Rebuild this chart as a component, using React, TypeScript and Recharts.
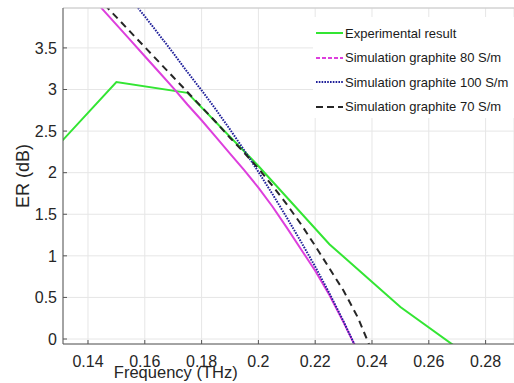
import { CartesianGrid, Label, Legend, Line, LineChart, XAxis, YAxis } from "recharts";

// frequency grid shared by the three simulated curves (THz)
const SIM_FREQ = [
  0.14, 0.145, 0.15, 0.155, 0.16, 0.165, 0.17, 0.175, 0.18, 0.185, 0.19,
  0.195, 0.2, 0.205, 0.21, 0.215, 0.22, 0.225, 0.23, 0.235, 0.24,
];
const SIM_80 = [
  4.17, 3.97, 3.78, 3.59, 3.4, 3.21, 3.02, 2.82, 2.63, 2.43, 2.23,
  2.03, 1.82, 1.59, 1.34, 1.08, 0.82, 0.53, 0.2, -0.15, -0.55,
];
const SIM_100 = [
  4.75, 4.53, 4.31, 4.09, 3.88, 3.66, 3.44, 3.21, 2.99, 2.76, 2.52,
  2.27, 2.01, 1.74, 1.46, 1.17, 0.87, 0.55, 0.21, -0.15, -0.55,
];
const SIM_70 = [
  4.23, 4.05, 3.87, 3.69, 3.51, 3.33, 3.15, 2.97, 2.79, 2.61, 2.42,
  2.24, 2.05, 1.84, 1.62, 1.38, 1.12, 0.85, 0.58, 0.26, -0.15,
];

// measured points
const EXP_FREQ = [0.13, 0.15, 0.175, 0.2, 0.225, 0.25, 0.275];
const EXP_ER = [2.35, 3.09, 2.96, 2.08, 1.14, 0.385, -0.23];

const X_TICKS = [0.14, 0.16, 0.18, 0.2, 0.22, 0.24, 0.26, 0.28];
const Y_TICKS = [0, 0.5, 1, 1.5, 2, 2.5, 3, 3.5];

const FONT = '"Liberation Sans", Arial, sans-serif';
const TEXT = "#262626";

const SERIES = [
  { key: "exp", name: "Experimental result", color: "#33e533", dash: undefined, legendDash: undefined },
  { key: "s80", name: "Simulation graphite 80 S/m", color: "#dd3fdd", dash: undefined, legendDash: "4 2" },
  { key: "s100", name: "Simulation graphite 100 S/m", color: "#20209a", dash: "1.6 1.2", legendDash: "1.6 1.2" },
  { key: "s70", name: "Simulation graphite 70 S/m", color: "#262626", dash: "7 5", legendDash: "7 4" },
];

const expData = EXP_FREQ.map((x, i) => ({ x, y: EXP_ER[i] }));
const simData = (vals: number[]) => SIM_FREQ.map((x, i) => ({ x, y: vals[i] }));
const dataByKey: Record<string, { x: number; y: number }[]> = {
  exp: expData,
  s80: simData(SIM_80),
  s100: simData(SIM_100),
  s70: simData(SIM_70),
};

function LegendBox() {
  return (
    <div
      style={{
        background: "#fff",
        width: 201,
        height: 101,
        paddingTop: 4,
        boxSizing: "border-box",
        fontFamily: FONT,
        fontSize: 13,
        color: "#1a1a1a",
      }}
    >
      {SERIES.map((s) => (
        <div key={s.key} style={{ display: "flex", alignItems: "center", height: 24.5 }}>
          <svg width={32} height={6} style={{ display: "block" }}>
            <line x1={3} x2={30} y1={3} y2={3} stroke={s.color} strokeWidth={2} strokeDasharray={s.legendDash} />
          </svg>
          <span>{s.name}</span>
        </div>
      ))}
    </div>
  );
}

const tickStyle = { fontSize: 16, fill: TEXT, fontFamily: FONT };

export default function App() {
  return (
    <div style={{ position: "absolute", left: 0, top: 0 }}>
      <LineChart width={514} height={383} margin={{ top: 0, right: 0, bottom: 0, left: 0 }}>
        <CartesianGrid stroke="#e6e6e6" />
        <XAxis
          dataKey="x"
          type="number"
          domain={[0.1312, 0.29]}
          ticks={X_TICKS}
          interval={0}
          allowDataOverflow
          height={39}
          tick={tickStyle}
          tickSize={-4}
          tickMargin={16}
          axisLine={{ stroke: "#555" }}
          tickLine={{ stroke: "#555" }}
        >
          <Label
            content={(p: any) => {
              const vb = p.viewBox;
              return (
                <text
                  x={vb.x + vb.width * 0.25}
                  y={vb.y + vb.height - 5}
                  textAnchor="middle"
                  fontSize={16.5}
                  fontFamily={FONT}
                  fill={TEXT}
                >
                  Frequency (THz)
                </text>
              );
            }}
          />
        </XAxis>
        <XAxis
          xAxisId="top"
          orientation="top"
          dataKey="x"
          type="number"
          domain={[0.1312, 0.29]}
          ticks={X_TICKS}
          interval={0}
          allowDataOverflow
          height={8}
          tick={false}
          tickSize={-4}
          axisLine={{ stroke: "#c8c8c8" }}
          tickLine={{ stroke: "#666" }}
        />
        <YAxis
          type="number"
          domain={[-0.06, 3.98]}
          ticks={Y_TICKS}
          interval={0}
          allowDataOverflow
          width={63}
          tick={tickStyle}
          tickSize={-4}
          tickMargin={10}
          axisLine={{ stroke: "#555" }}
          tickLine={{ stroke: "#555" }}
        >
          <Label
            content={(p: any) => {
              const vb = p.viewBox;
              const cx = vb.x + 23;
              const cy = vb.y + vb.height / 2;
              return (
                <text
                  x={cx}
                  y={cy}
                  transform={`rotate(-90 ${cx} ${cy})`}
                  textAnchor="middle"
                  dominantBaseline="central"
                  fontSize={18}
                  fontFamily={FONT}
                  fill={TEXT}
                >
                  ER (dB)
                </text>
              );
            }}
          />
        </YAxis>
        <Legend
          layout="vertical"
          align="center"
          verticalAlign="middle"
          content={<LegendBox />}
          wrapperStyle={{ left: 313, top: 17, width: 201, height: 101 }}
        />
        {SERIES.map((s) => (
          <Line
            key={s.key}
            data={dataByKey[s.key]}
            dataKey="y"
            name={s.name}
            type="linear"
            stroke={s.color}
            strokeWidth={2}
            strokeDasharray={s.dash}
            dot={false}
            activeDot={false}
            isAnimationActive={false}
          />
        ))}
      </LineChart>
    </div>
  );
}
